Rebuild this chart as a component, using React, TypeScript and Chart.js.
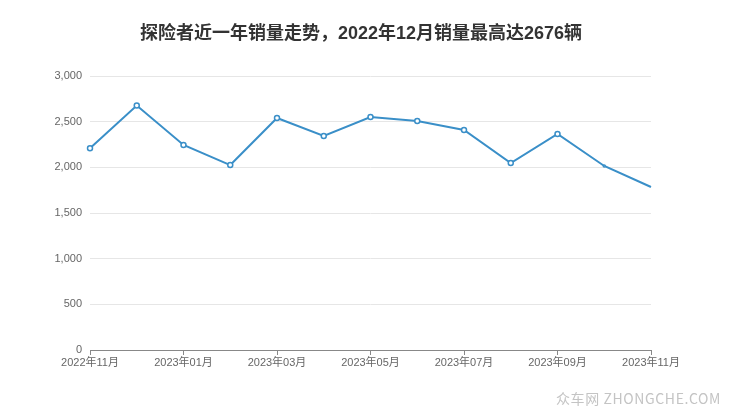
import React, { useEffect, useRef } from "react";
import { Chart, registerables } from "chart.js";

Chart.register(...registerables);

const categories = [
  "2022年11月", "2022年12月", "2023年01月", "2023年02月", "2023年03月", "2023年04月",
  "2023年05月", "2023年06月", "2023年07月", "2023年08月", "2023年09月", "2023年10月", "2023年11月",
];
const sales = [2210, 2676, 2245, 2025, 2540, 2343, 2551, 2507, 2409, 2047, 2365, 2015, 1785];
const yTicks = [0, 500, 1000, 1500, 2000, 2500, 3000];
const titleText = "探险者近一年销量走势，2022年12月销量最高达2676辆";
const watermark = "众车网 ZHONGCHE.COM";

const FONT = "'Liberation Sans', 'Noto Sans CJK SC', sans-serif";
const LINE = "#3a8fc8";

export default function App() {
  const ref = useRef<HTMLCanvasElement | null>(null);
  useEffect(() => {
    document.body.style.margin = "0";
    const ctx = ref.current!;
    const chart = new Chart(ctx, {
      type: "line",
      data: {
        labels: categories,
        datasets: [
          {
            data: sales,
            borderColor: LINE,
            borderWidth: 2,
            backgroundColor: "#fff",
            pointBackgroundColor: "#fff",
            pointBorderColor: LINE,
            pointBorderWidth: 1.5,
            pointRadius: sales.map((_, i) => (i < 11 ? 2.5 : i === 11 ? 1 : 0)),
            tension: 0,
          },
        ],
      },
      options: {
        animation: false,
        responsive: false,
        layout: { padding: { left: 0, right: 89, top: 76, bottom: 0 } },
        plugins: {
          legend: { display: false },
          tooltip: { enabled: false },
          title: { display: false },
        },
        scales: {
          x: {
            type: "category",
            offset: false,
            grid: {
              display: true,
              drawOnChartArea: false,
              drawTicks: true,
              tickLength: 5,
              color: (c: any) => (c.index % 2 === 0 ? "#888" : "rgba(0,0,0,0)"),
            },
            border: { display: true, color: "#888", width: 1 },
            ticks: {
              autoSkip: false,
              maxRotation: 0,
              color: "#666",
              font: { family: FONT, size: 11 },
              padding: 1,
              callback: (_v: any, i: number) => (i % 2 === 0 ? categories[i] : ""),
            },
            afterFit: (s: any) => {
              s.height = 67;
            },
          },
          y: {
            min: 0,
            max: 3000,
            afterBuildTicks: (s: any) => {
              s.ticks = yTicks.map((v) => ({ value: v }));
            },
            grid: { color: "#e6e6e6", drawTicks: false, lineWidth: 1 },
            border: { display: false },
            ticks: {
              color: "#666",
              font: { family: FONT, size: 11 },
              padding: 8,
              callback: (v: any) => Number(v).toLocaleString("en-US"),
            },
            afterFit: (s: any) => {
              s.width = 90;
            },
          },
        },
      },
    });
    return () => chart.destroy();
  }, []);
  return (
    <div style={{ position: "relative", width: 740, height: 417 }}>
      <canvas ref={ref} width={740} height={417} style={{ display: "block" }} />
      <div
        style={{
          position: "absolute",
          left: 0,
          width: 722,
          top: 18,
          textAlign: "center",
          fontFamily: FONT,
          fontSize: 18,
          fontWeight: "bold",
          color: "#333",
          whiteSpace: "nowrap",
        }}
      >
        {titleText}
      </div>
      <div
        style={{
          position: "absolute",
          left: 556,
          top: 388,
          fontFamily: "'Noto Sans CJK SC', 'Liberation Sans', sans-serif",
          fontSize: 14,
          color: "#c4c4c4",
          letterSpacing: 0.6,
          whiteSpace: "nowrap",
        }}
      >
        {watermark}
      </div>
    </div>
  );
}
